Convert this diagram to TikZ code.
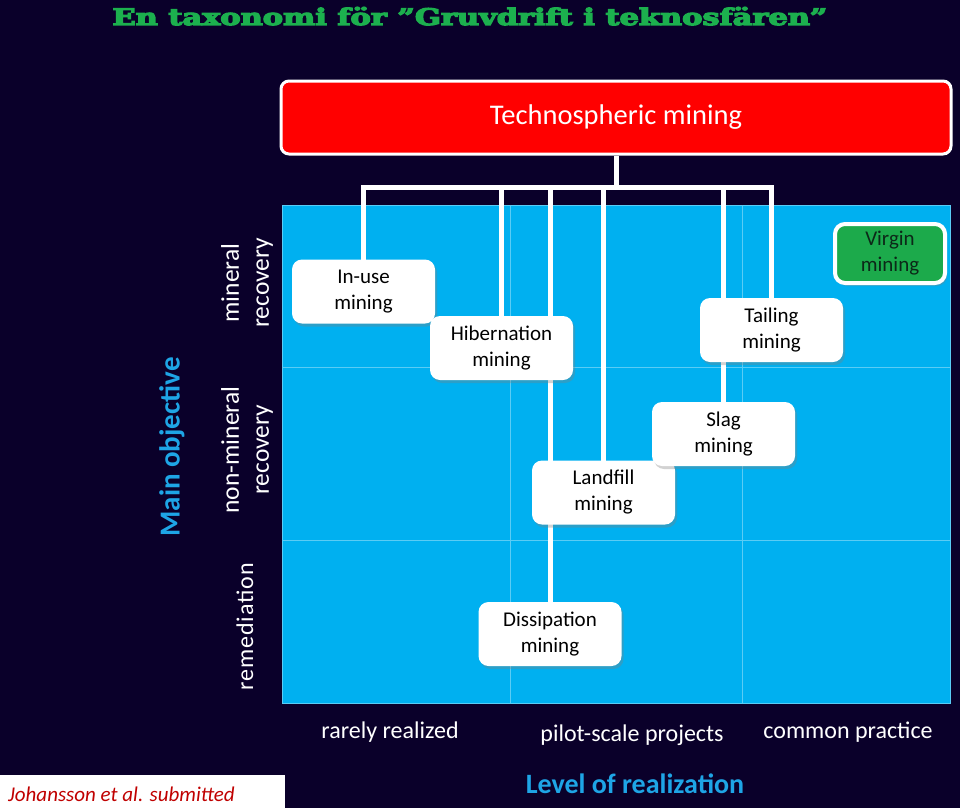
\documentclass[tikz,border=0pt]{standalone}
\usepackage{fontspec}
\setmainfont{Carlito}
\newfontfamily\titlefont{DejaVu Serif}[UprightFont=* Bold, FakeBold=5]
\usetikzlibrary{shadows}
\definecolor{bg}{RGB}{10,0,42}
\definecolor{titlegreen}{RGB}{28,176,78}
\definecolor{gridblue}{RGB}{0,176,240}
\definecolor{gridline}{RGB}{90,204,245}
\definecolor{objblue}{RGB}{30,165,230}
\definecolor{virgingreen}{RGB}{28,170,75}
\definecolor{virgintext}{RGB}{12,40,24}
\definecolor{refred}{RGB}{192,0,0}
\begin{document}
\begin{tikzpicture}[x=1pt,y=-1pt,
  boxnode/.style={fill=white, rounded corners=10pt, minimum width=143pt,
    minimum height=64pt, inner sep=0pt, align=center,
    font=\fontsize{21}{26}\selectfont,
    drop shadow={shadow xshift=2pt, shadow yshift=-3pt, opacity=0.35}},
  conn/.style={draw=white, line width=5pt, line join=miter},
  sidelabel/.style={rotate=90, text=white, align=center,
    font=\fontsize{25.5}{30}\selectfont},
  axislabel/.style={text=white, font=\fontsize{24}{28}\selectfont},
  gridln/.style={draw=gridline, line width=1pt}]
\fill[bg] (0,0) rectangle (960,808);
\useasboundingbox (0,0) rectangle (960,808);

% title
\node[anchor=base, text=titlegreen, inner sep=0pt] (title) at (470,25)
  {\resizebox{715pt}{18pt}{\fontsize{24}{28}\titlefont En taxonomi för ”Gruvdrift i teknosfären”}};

% grid
\fill[gridblue] (282,205) rectangle (950,703);
\draw[gridln] (282,205) rectangle (950,703);
\draw[gridln] (510,205) -- (510,703);
\draw[gridln] (742,205) -- (742,703);
\draw[gridln] (282,367) -- (950,367);
\draw[gridln] (282,540) -- (950,540);

% top box
\node[fill=red, draw=white, line width=3pt, rounded corners=8pt,
  minimum width=670pt, minimum height=73pt, inner sep=0pt, text=white,
  font=\fontsize{28.5}{32}\selectfont] (tech) at (616,117.5) {Technospheric mining};

% junction and node coordinates
\coordinate (bar) at (616,187);
\coordinate (inusepos) at (363.5,291.5);
\coordinate (hibpos) at (501.5,348);
\coordinate (landpos) at (603.5,492.5);
\coordinate (slagpos) at (723.5,434);
\coordinate (tailpos) at (771.5,330);
\coordinate (disspos) at (550,634);

% connectors (drawn before the boxes so the boxes cover them)
\draw[conn] (tech.south) -- (bar);
\draw[conn] (inusepos) |- (bar) -| (tailpos);
\draw[conn] (hibpos) -- (hibpos |- bar);
\draw[conn] (disspos) -- (disspos |- bar);
\draw[conn] (landpos) -- (landpos |- bar);
\draw[conn] (slagpos) -- (slagpos |- bar);

% boxes
\node[boxnode] (inuse) at (inusepos) {In-use\\mining};
\node[boxnode] (hib) at (hibpos) {Hibernation\\mining};
\node[boxnode] (landfill) at (landpos) {Landfill\\mining};
\node[boxnode] (diss) at (disspos) {Dissipation\\mining};
\node[boxnode] (tailing) at (tailpos) {Tailing\\mining};
\node[boxnode] (slag) at (slagpos) {Slag\\mining};
\node[fill=virgingreen, draw=white, line width=4pt, rounded corners=10pt,
  minimum width=110pt, minimum height=59pt, inner sep=0pt, align=center,
  text=virgintext, font=\fontsize{21}{26}\selectfont,
  drop shadow={shadow xshift=2pt, shadow yshift=-3pt, opacity=0.35}]
  (virgin) at (890,253.5) {Virgin\\mining};

% side labels
\node[rotate=90, text=objblue, font=\fontsize{29}{32}\selectfont\bfseries]
  (mainobj) at (172,447) {Main objective};
\node[sidelabel] (mineral) at (247,283) {mineral\\recovery};
\node[sidelabel] (nonmineral) at (247,450) {non-mineral\\recovery};
\node[sidelabel, font=\fontsize{24}{30}\selectfont\addfontfeature{LetterSpace=4}]
  (remed) at (245,627) {remediation};

% axis labels
\node[axislabel] (rarely) at (390,732) {rarely realized};
\node[axislabel] (pilot) at (632,735) {pilot-scale projects};
\node[axislabel] (common) at (848,732) {common practice};
\node[text=objblue, font=\fontsize{28}{32}\selectfont\bfseries]
  (level) at (635,784) {Level of realization};

% reference note
\fill[white] (0,775) rectangle (285,808);
\node[anchor=west, text=refred, inner sep=0pt,
  font=\fontsize{21}{24}\selectfont\itshape] (cite) at (8,794)
  {Johansson et al. submitted};
\end{tikzpicture}
\end{document}
